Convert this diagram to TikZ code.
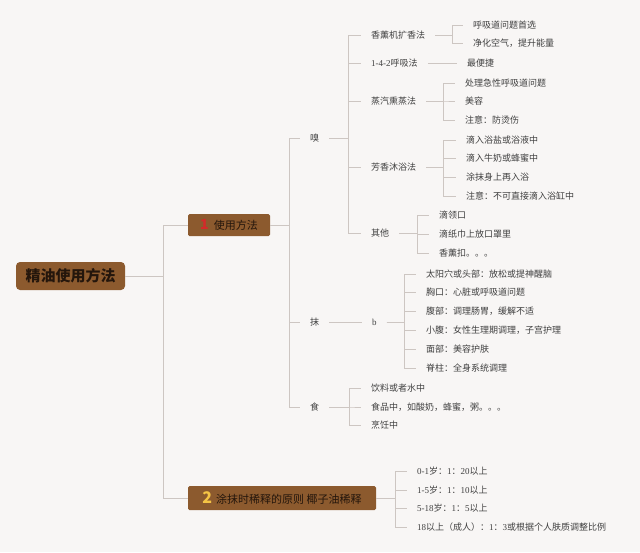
\documentclass[tikz,border=0pt]{standalone}
\usepackage{fontspec}
\setmainfont{Liberation Serif}
\newfontfamily\cjk{Noto Sans CJK SC}
\newfontfamily\latf{Liberation Serif}
\newcommand{\Lat}[1]{{\latf #1}}
\definecolor{bg}{HTML}{F8F6F5}
\definecolor{brownbox}{HTML}{8C5A2E}
\definecolor{conn}{HTML}{CDC6C2}
\definecolor{txt}{HTML}{404040}
\definecolor{boxtxt}{HTML}{24160C}
\definecolor{numred}{HTML}{D42A2A}
\definecolor{numyel}{HTML}{F5C445}
\begin{document}
\begin{tikzpicture}[x=1pt,y=-1pt,
 leaf/.style={anchor=west, inner xsep=10pt, inner ysep=1pt, font=\cjk\fontsize{9}{10}\selectfont, text=txt},
 link/.style={draw=conn, line width=1pt},
 topbox/.style={fill=brownbox, rounded corners=1.5pt, text=boxtxt, inner sep=0pt, font=\cjk\fontsize{11}{12}\selectfont},
 rootbox/.style={fill=brownbox, rounded corners=4pt, text=boxtxt, inner sep=0pt, font=\cjk\bfseries\fontsize{15}{16}\selectfont},
]
\useasboundingbox (0,0) rectangle (640,552);
\fill[bg] (0,0) rectangle (640,552);

% main nodes
\node[rootbox, minimum width=109pt, minimum height=28pt] (root) at (70.5,276) {精油使用方法};
\node[topbox, minimum width=82pt, minimum height=22pt] (b1) at (229,225) {{\color{numred}\bfseries\fontsize{14}{14}\selectfont 1}\hspace{5pt}使用方法};
\node[topbox, minimum width=188pt, minimum height=24pt] (b2) at (282,498) {{\color{numyel}\bfseries\fontsize{16}{16}\selectfont 2}\hspace{4pt}涂抹时稀释的原则 椰子油稀释};

% level 2
\node[leaf] (xiu) at (300,138) {嗅};
\node[leaf] (mo) at (300,322) {抹};
\node[leaf] (shi) at (300,407) {食};

% under 嗅
\node[leaf] (x1) at (361,35) {香薰机扩香法};
\node[leaf] (x2) at (361,63) {\Lat{1-4-2}呼吸法};
\node[leaf] (x3) at (361,101) {蒸汽熏蒸法};
\node[leaf] (x4) at (361,167) {芳香沐浴法};
\node[leaf] (x5) at (361,233) {其他};
\node[leaf] (x1a) at (463,25) {呼吸道问题首选};
\node[leaf] (x1b) at (463,43) {净化空气，提升能量};
\node[leaf] (x2a) at (457,63) {最便捷};
\node[leaf] (x3a) at (455,83) {处理急性呼吸道问题};
\node[leaf] (x3b) at (455,101) {美容};
\node[leaf] (x3c) at (455,120) {注意：防烫伤};
\node[leaf] (x4a) at (456,140) {滴入浴盐或浴液中};
\node[leaf] (x4b) at (456,158) {滴入牛奶或蜂蜜中};
\node[leaf] (x4c) at (456,177) {涂抹身上再入浴};
\node[leaf] (x4d) at (456,196) {注意：不可直接滴入浴缸中};
\node[leaf] (x5a) at (429,215) {滴领口};
\node[leaf] (x5b) at (429,234) {滴纸巾上放口罩里};
\node[leaf] (x5c) at (429,253) {香薰扣。。。};

% under 抹
\node[leaf] (mb) at (362,322) {\Lat{b}};
\node[leaf] (m1) at (416,274) {太阳穴或头部：放松或提神醒脑};
\node[leaf] (m2) at (416,292) {胸口：心脏或呼吸道问题};
\node[leaf] (m3) at (416,311) {腹部：调理肠胃，缓解不适};
\node[leaf] (m4) at (416,330) {小腹：女性生理期调理，子宫护理};
\node[leaf] (m5) at (416,349) {面部：美容护肤};
\node[leaf] (m6) at (416,368) {脊柱：全身系统调理};

% under 食
\node[leaf] (s1) at (361,388) {饮料或者水中};
\node[leaf] (s2) at (361,407) {食品中，如酸奶，蜂蜜，粥。。。};
\node[leaf] (s3) at (361,425) {烹饪中};

% under box 2
\node[leaf] (d1) at (407,471) {\Lat{0-1}岁：\Lat{1}：\Lat{20}以上};
\node[leaf] (d2) at (407,490) {\Lat{1-5}岁：\Lat{1}：\Lat{10}以上};
\node[leaf] (d3) at (407,508) {\Lat{5-18}岁：\Lat{1}：\Lat{5}以上};
\node[leaf] (d4) at (407,527) {\Lat{18}以上（成人）：\Lat{1}：\Lat{3}或根据个人肤质调整比例};

% spine coordinates
\coordinate (sp0) at (163,0);
\coordinate (spa) at (289,0);
\coordinate (spb) at (348,0);
\coordinate (spc) at (452,0);
\coordinate (spd) at (443,0);
\coordinate (spe) at (417,0);
\coordinate (spf) at (404,0);
\coordinate (spg) at (349,0);
\coordinate (sph) at (395,0);

% connectors
\foreach \c in {b1,b2} \draw[link] (root.east) -- (root.east -| sp0) |- (\c.west);
\foreach \c in {xiu,mo,shi} \draw[link] (b1.east) -- (b1.east -| spa) |- (\c.west);
\foreach \c in {x1,x2,x3,x4,x5} \draw[link] (xiu.east) -- (xiu.east -| spb) |- (\c.west);
\foreach \c in {x1a,x1b} \draw[link] (x1.east) -- (x1.east -| spc) |- (\c.west);
\draw[link] (x2.east) -- (x2a.west);
\foreach \c in {x3a,x3b,x3c} \draw[link] (x3.east) -- (x3.east -| spd) |- (\c.west);
\foreach \c in {x4a,x4b,x4c,x4d} \draw[link] (x4.east) -- (x4.east -| spd) |- (\c.west);
\foreach \c in {x5a,x5b,x5c} \draw[link] (x5.east) -- (x5.east -| spe) |- (\c.west);
\draw[link] (mo.east) -- (mb.west);
\foreach \c in {m1,m2,m3,m4,m5,m6} \draw[link] (mb.east) -- (mb.east -| spf) |- (\c.west);
\foreach \c in {s1,s2,s3} \draw[link] (shi.east) -- (shi.east -| spg) |- (\c.west);
\foreach \c in {d1,d2,d3,d4} \draw[link] (b2.east) -- (b2.east -| sph) |- (\c.west);
\end{tikzpicture}
\end{document}
